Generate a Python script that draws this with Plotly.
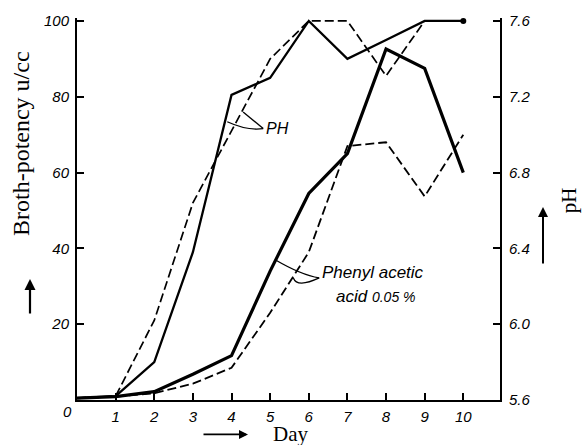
import plotly.graph_objects as go

days = [0, 1, 2, 3, 4, 5, 6, 7, 8, 9, 10]
ph_solid = [5.61, 5.62, 5.80, 6.38, 7.21, 7.30, 7.60, 7.40, 7.50, 7.60, 7.60]
ph_dashed = [5.61, 5.62, 6.02, 6.64, 7.02, 7.40, 7.60, 7.60, 7.31, 7.60, 7.60]
potency_solid = [0.5, 0.9, 2.2, 6.8, 11.7, 34, 54.5, 65, 92.6, 87.5, 60]
potency_dashed = [0.5, 0.9, 1.8, 4.3, 8.5, 23, 39, 67, 68, 53.7, 70]

x_ticks = [1, 2, 3, 4, 5, 6, 7, 8, 9, 10]
y_ticks = [20, 40, 60, 80, 100]
ph_ticks = [5.6, 6.0, 6.4, 6.8, 7.2, 7.6]
ph_ticktext = ["5.6", "6.0", "6.4", "6.8", "7.2", "7.6"]

W, H = 588, 445
L, R, T, B = 77, 88, 12, 45
PW, PH_ = W - L - R, H - T - B


def px(xp):
    return (xp - L) / PW


def py(yp):
    return (H - B - yp) / PH_


ytop = 100 * (PH_ / 385)
ph_top = 5.6 + 2.0 * (PH_ / 385)

SERIF = "Liberation Serif, Times New Roman, serif"
SANS = "Liberation Sans, Arial, sans-serif"

fig = go.Figure()
fig.add_trace(go.Scatter(x=days, y=potency_dashed, mode="lines",
                         line=dict(color="black", width=1.8, dash="9px,4px"),
                         showlegend=False))
fig.add_trace(go.Scatter(x=days, y=potency_solid, mode="lines",
                         line=dict(color="black", width=3.2),
                         showlegend=False))
fig.add_trace(go.Scatter(x=days, y=ph_dashed, mode="lines", yaxis="y2",
                         line=dict(color="black", width=1.7, dash="9px,4px"),
                         showlegend=False))
fig.add_trace(go.Scatter(x=days, y=ph_solid, mode="lines", yaxis="y2",
                         line=dict(color="black", width=2.3),
                         showlegend=False))
fig.add_trace(go.Scatter(x=[days[-1]], y=[ph_solid[-1]], mode="markers", yaxis="y2",
                         marker=dict(color="black", size=6),
                         showlegend=False, cliponaxis=False))

tickfont = dict(family=SANS, size=15, color="black", style="italic")

fig.update_layout(
    width=W, height=H,
    margin=dict(l=L, r=R, t=T, b=B),
    paper_bgcolor="white", plot_bgcolor="white",
    xaxis=dict(range=[0, 10.95], tickvals=x_ticks, ticktext=[str(v) for v in x_ticks],
               ticks="inside", ticklen=7, tickwidth=1.5, tickcolor="black",
               showline=True, linecolor="black", linewidth=2,
               showgrid=False, zeroline=False, tickfont=tickfont, ticklabelstandoff=2),
    yaxis=dict(range=[0, ytop], tickvals=y_ticks, ticktext=[str(v) for v in y_ticks],
               ticks="inside", ticklen=7, tickwidth=1.5, tickcolor="black",
               showline=True, linecolor="black", linewidth=2,
               showgrid=False, zeroline=False, tickfont=tickfont, ticklabelstandoff=3),
    yaxis2=dict(range=[5.6, ph_top], overlaying="y", side="right",
                tickvals=ph_ticks, ticktext=ph_ticktext,
                ticks="inside", ticklen=7, tickwidth=1.5, tickcolor="black",
                showline=True, linecolor="black", linewidth=2,
                showgrid=False, zeroline=False, tickfont=tickfont, ticklabelstandoff=4),
)

C = dict(xanchor="center", yanchor="middle")
ann = []
ann.append(dict(xref="paper", yref="paper", x=px(21), y=py(140), text="Broth-potency u/cc",
                textangle=-90, showarrow=False, font=dict(family=SERIF, size=24, color="black"), **C))
ann.append(dict(xref="paper", yref="paper", x=px(569), y=py(197), text="pH",
                textangle=-90, showarrow=False, font=dict(family=SERIF, size=21, color="black"), **C))
ann.append(dict(xref="paper", yref="paper", x=px(290), y=py(435), text="Day",
                showarrow=False, font=dict(family=SERIF, size=21, color="black"), **C))
ann.append(dict(xref="paper", yref="paper", x=px(67), y=py(412), text="0",
                showarrow=False, font=tickfont, **C))
# arrows
ann.append(dict(xref="paper", yref="paper", x=px(30), y=py(277), ax=0, ay=36,
                text="", showarrow=True, arrowhead=2, arrowsize=1, arrowwidth=2.2, arrowcolor="black"))
ann.append(dict(xref="paper", yref="paper", x=px(543), y=py(204), ax=0, ay=58,
                text="", showarrow=True, arrowhead=2, arrowsize=1, arrowwidth=2, arrowcolor="black"))
ann.append(dict(xref="paper", yref="paper", x=px(248), y=py(435), ax=-46, ay=0,
                text="", showarrow=True, arrowhead=2, arrowsize=1, arrowwidth=1.8, arrowcolor="black"))
# labels
ann.append(dict(xref="x", yref="y", x=4.85, y=71.6, text="PH", xanchor="left", yanchor="middle",
                showarrow=False, font=dict(family=SANS, size=16, color="black", style="italic")))
ann.append(dict(xref="x", yref="y", x=6.28, y=33.6, text="Phenyl acetic", xanchor="left", yanchor="middle",
                showarrow=False, font=dict(family=SANS, size=17, color="black", style="italic")))
ann.append(dict(xref="x", yref="y", x=6.65, y=27.4,
                text="acid <span style='font-size:14px'>0.05 %</span>", xanchor="left", yanchor="middle",
                showarrow=False, font=dict(family=SANS, size=17, color="black", style="italic")))
fig.update_layout(annotations=ann)

shapes = [
    dict(type="path", xref="x", yref="y", path="M 3.89,73.4 Q 4.4,71.0 4.82,71.6",
         line=dict(color="black", width=1.3)),
    dict(type="path", xref="x", yref="y", path="M 4.3,76.0 L 4.82,71.6",
         line=dict(color="black", width=1.3)),
    dict(type="path", xref="x", yref="y", path="M 5.13,37.0 Q 5.8,33.0 6.27,32.2",
         line=dict(color="black", width=1.3)),
    dict(type="path", xref="x", yref="y", path="M 5.6,32.2 Q 5.7,29.5 6.27,32.2",
         line=dict(color="black", width=1.3)),
]
fig.update_layout(shapes=shapes)

fig.write_html("out.html")
